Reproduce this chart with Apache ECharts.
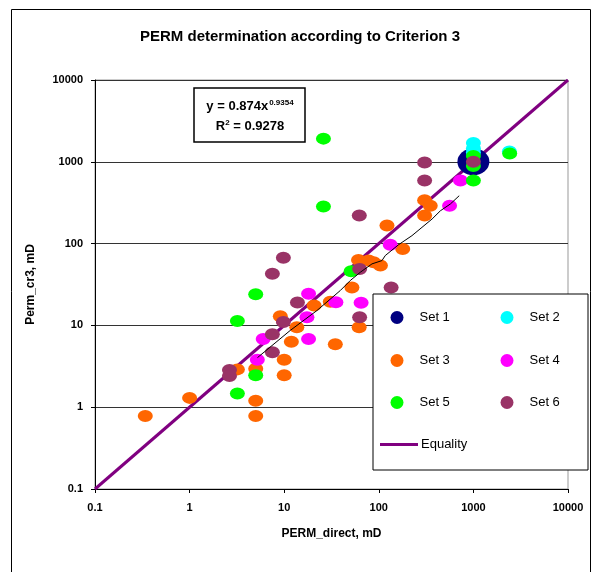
<!DOCTYPE html>
<html>
<head>
<meta charset="utf-8">
<script src="https://cdn.jsdelivr.net/npm/echarts@6/dist/echarts.min.js"></script>
<style>html,body{margin:0;padding:0;background:#fff}#c{width:600px;height:572px}</style>
</head>
<body>
<div id="c"></div>
<script>
// ---- data (x = PERM_direct, y = Perm_cr3) ----
var set1 = [[1000, 1000]];
var set2 = [[1000, 1700], [1000, 1450], [1000, 1300], [2400, 1340]];
var set3 = [[0.34, 0.78], [1.0, 1.3], [3.2, 2.9], [5.0, 2.95], [5.0, 1.2], [5.0, 0.78], [10, 3.8], [10, 2.45],
            [9.1, 12.9], [11.9, 6.3], [13.6, 9.5], [20.7, 17.5], [30.7, 19.5], [34.7, 5.9], [61, 63], [78, 62],
            [52, 29], [62, 9.5], [122, 166], [179, 86], [88, 59], [104, 54], [305, 340], [350, 290], [305, 220]];
var set4 = [[5.2, 3.8], [6.0, 6.8], [18.1, 24.4], [17.4, 12.6], [18.1, 6.8], [35.2, 19.2], [65, 18.9],
            [132, 97], [560, 290], [730, 590]];
var set5 = [[3.2, 11.3], [3.2, 1.47], [5.0, 24], [5.0, 2.45], [26, 1920], [26, 285], [51, 46],
            [1000, 1180], [1000, 890], [1000, 590], [2420, 1260]];
var set6 = [[2.64, 2.85], [2.64, 2.4], [7.5, 42.7], [7.5, 7.8], [7.5, 4.7], [9.8, 11.0], [9.8, 67], [13.8, 19],
            [62.7, 49], [62.7, 12.6], [62.2, 220], [135, 29], [305, 980], [305, 590], [1000, 1000]];
var equality = [[0.1, 0.1], [10000, 10000]];
var trendX = [5.22, 11.6, 22.2, 39.2, 50, 63.7, 84.7, 108, 117, 162, 224, 286, 366, 448, 571, 708];
var trendY = [4.04, 8.69, 15.2, 26.7, 35.4, 44.6, 56.5, 62, 71.4, 97, 125, 158, 200, 252, 305, 385];
var tickValues = [0.1, 1, 10, 100, 1000, 10000];
var setNames = ['Set 1', 'Set 2', 'Set 3', 'Set 4', 'Set 5', 'Set 6'];
var setColors = ['#000080', '#00FFFF', '#FF6600', '#FF00FF', '#00FF00', '#993366'];

var trend = trendX.map(function (x, i) { return [x, trendY[i]]; });
var font = 'Arial, "Liberation Sans", sans-serif';

function fmt(v) { return String(+Number(v).toPrecision(6)); }

function scatter(name, data, color, size) {
  return { name: name, type: 'scatter', data: data, symbol: 'circle', symbolSize: size || [15, 12],
           itemStyle: { color: color, opacity: 1 }, z: 3 };
}

var chart = echarts.init(document.getElementById('c'), null, { renderer: 'canvas' });

var legendPos = [[390.5, 311], [500.5, 311], [390.5, 354], [500.5, 354], [390.5, 396], [500.5, 396]];
var legends = setNames.map(function (n, i) {
  return { data: [n], left: legendPos[i][0], top: legendPos[i][1], padding: 0, z: 120,
           itemWidth: 13, itemHeight: 13, icon: 'circle', selectedMode: false,
           textStyle: { fontFamily: font, fontSize: 13, color: '#000', padding: [0, 0, 0, 11] } };
});
legends.push({ data: ['Equality'], left: 380, top: 438, padding: 0, z: 120, itemWidth: 38, itemHeight: 3,
               icon: 'rect', selectedMode: false,
               textStyle: { fontFamily: font, fontSize: 13, color: '#000', padding: [0, 0, 0, -2] } });

chart.setOption({
  animation: false,
  backgroundColor: '#fff',
  title: { text: 'PERM determination according to Criterion 3', left: 'center', top: 24,
           textStyle: { fontFamily: font, fontSize: 15, fontWeight: 'bold', color: '#000' } },
  grid: { left: 95, right: 32, top: 80, bottom: 83, show: true, borderColor: '#999', borderWidth: 1, backgroundColor: '#fff' },
  xAxis: { type: 'log', logBase: 10, min: 0.1, max: 10000, splitNumber: 5,
           name: 'PERM_direct, mD', nameLocation: 'middle', nameGap: 39,
           nameTextStyle: { fontFamily: font, fontSize: 12, fontWeight: 'bold', color: '#000' },
           axisLine: { lineStyle: { color: '#000', width: 1 } },
           axisTick: { show: true, inside: false, length: 4, lineStyle: { color: '#000' } },
           minorTick: { show: false },
           axisLabel: { formatter: fmt, margin: 13, fontFamily: font, fontSize: 11, fontWeight: 'bold', color: '#000' },
           splitLine: { show: false } },
  yAxis: { type: 'log', logBase: 10, min: 0.1, max: 10000, splitNumber: 5,
           name: 'Perm_cr3, mD', nameLocation: 'middle', nameGap: 58,
           nameTextStyle: { fontFamily: font, fontSize: 12, fontWeight: 'bold', color: '#000' },
           axisLine: { lineStyle: { color: '#000', width: 1 } },
           axisTick: { show: true, inside: false, length: 4, lineStyle: { color: '#000' } },
           axisLabel: { formatter: fmt, margin: 12, fontFamily: font, fontSize: 11, fontWeight: 'bold', color: '#000' },
           splitLine: { show: true, lineStyle: { color: '#333', width: 1 } } },
  legend: legends,
  series: [
    scatter('Set 1', set1, setColors[0], [32, 27]),
    scatter('Set 2', set2, setColors[1]),
    scatter('Set 3', set3, setColors[2]),
    { name: 'Equality', type: 'line', data: equality, symbol: 'none', showSymbol: false,
      lineStyle: { color: '#800080', width: 3 }, itemStyle: { color: '#800080' }, z: 3 },
    scatter('Set 4', set4, setColors[3]),
    scatter('Set 5', set5, setColors[4]),
    scatter('Set 6', set6, setColors[5]),
    { name: 'trend', type: 'line', data: trend, symbol: 'none', showSymbol: false,
      lineStyle: { color: '#000', width: 1 }, z: 4 }
  ],
  graphic: [
    { type: 'rect', z: 110, shape: { x: 373, y: 294, width: 215, height: 176 },
      style: { fill: '#fff', stroke: '#000', lineWidth: 1 } },
    { type: 'rect', z: 110, shape: { x: 194, y: 88, width: 111, height: 54 },
      style: { fill: '#fff', stroke: '#000', lineWidth: 1.5 } },
    { type: 'text', z: 111, x: 250, y: 106,
      style: { text: '{b|y = 0.874x}{s|0.9354}', align: 'center', verticalAlign: 'middle',
               rich: { b: { fontFamily: font, fontSize: 13, fontWeight: 'bold', fill: '#000' },
                       s: { fontFamily: font, fontSize: 8, fontWeight: 'bold', fill: '#000', verticalAlign: 'top', padding: [0, 0, 6, 1] } } } },
    { type: 'text', z: 111, x: 250, y: 126,
      style: { text: '{b|R}{s|2}{b| = 0.9278}', align: 'center', verticalAlign: 'middle',
               rich: { b: { fontFamily: font, fontSize: 13, fontWeight: 'bold', fill: '#000' },
                       s: { fontFamily: font, fontSize: 8, fontWeight: 'bold', fill: '#000', verticalAlign: 'top', padding: [0, 0, 6, 0] } } } },
    { type: 'rect', z: 200, silent: true, shape: { x: 11.5, y: 9.5, width: 579, height: 600 },
      style: { fill: 'none', stroke: '#000', lineWidth: 1 } }
  ]
});
</script>
</body>
</html>
